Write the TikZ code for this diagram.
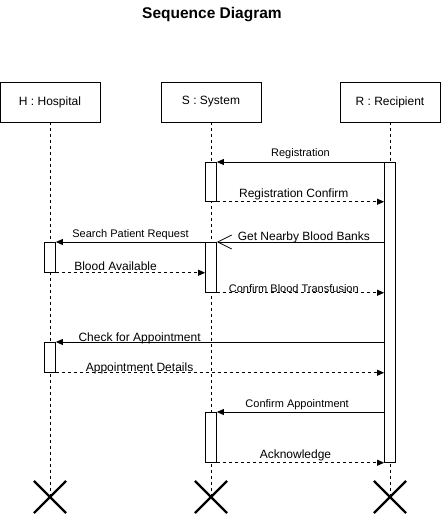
\documentclass[tikz,border=0pt]{standalone}
\usepackage{fontspec}
\setmainfont{Liberation Sans}
\usetikzlibrary{arrows.meta,shapes.misc}

\begin{document}
\begin{tikzpicture}[x=1pt,y=-1pt,line width=0.75pt,
		lifebox/.style={draw,minimum width=100pt,minimum height=40pt,inner sep=0pt,font=\fontsize{12}{14}\selectfont},
		actbar/.style={draw,fill=white,minimum width=11pt,inner sep=0pt,anchor=north},
		lifeline/.style={dash pattern=on 3pt off 3pt},
		msg/.style={-{Triangle[length=7pt,width=6pt]}},
		reply/.style={dash pattern=on 3pt off 3pt,-{Triangle[length=7pt,width=6pt]}},
		lbl/.style={inner sep=0pt,font=\fontsize{11}{13}\selectfont},
		big/.style={inner sep=0pt,font=\fontsize{12}{14}\selectfont},
		kill/.style={draw,cross out,minimum size=30pt,inner sep=0pt,line width=2.2pt}]
		\useasboundingbox (0,0) rectangle (442,514);
		\node[font=\bfseries\fontsize{15.5}{17}\selectfont] (title) at (212,15) {Sequence Diagram};
		% participants
		\node[lifebox] (hosp) at (50,102) {H : Hospital};
		\node[lifebox] (sys) at (211,102) {S : System};
		\node[lifebox] (recip) at (390,102) {R : Recipient};
		\node[kill] (hX) at (50,497) {};
		\node[kill] (sX) at (211,497) {};
		\node[kill] (rX) at (390,497) {};
		\draw[lifeline] (hosp) -- (hX.center);
		\draw[lifeline] (sys) -- (sX.center);
		\draw[lifeline] (recip) -- (rX.center);
		% activations
		\node[actbar,minimum height=300pt] (rAct) at (390,162) {};
		\node[actbar,minimum height=39pt] (sAct1) at (211,162) {};
		\node[actbar,minimum height=30pt] (hAct1) at (50,242) {};
		\node[actbar,minimum height=50pt] (sAct2) at (211,242) {};
		\node[actbar,minimum height=30pt] (hAct2) at (50,342) {};
		\node[actbar,minimum height=50pt] (sAct3) at (211,412) {};
		% messages
		\draw[msg] (rAct.north west) -- node[lbl,above=2.5pt]{Registration} (sAct1.north east);
		\draw[reply] (sAct1.south east) -- node[big,above=1pt,pos=0.46]{Registration Confirm} (sAct1.south east -| rAct.west);
		\draw[-{Straight Barb[length=14pt,width=14pt]}] (rAct.west |- sAct2.north) -- node[big,above=-1pt,pos=0.48]{Get Nearby Blood Banks} (sAct2.north east);
		\draw[msg] (sAct2.north west) -- node[lbl,above=2pt]{Search Patient Request} (hAct1.north east);
		\draw[reply] (hAct1.south east) -- node[big,above=1.5pt,pos=0.4]{Blood Available} (hAct1.south east -| sAct2.west);
		\draw[reply] (sAct2.south east) -- node[lbl,above=-0.5pt,pos=0.46]{Confirm Blood Transfusion} (sAct2.south east -| rAct.west);
		\draw[msg] (rAct.west |- hAct2.north) -- node[big,above=-2pt,pos=0.745]{Check for Appointment} (hAct2.north east);
		\draw[reply] (hAct2.south east) -- node[big,above=-2pt,pos=0.255]{Appointment Details} (hAct2.south east -| rAct.west);
		\draw[msg] (rAct.west |- sAct3.north) -- node[lbl,above=2pt,pos=0.52]{Confirm Appointment} (sAct3.north east);
		\draw[reply] (sAct3.south east) -- node[big,above=1pt,pos=0.47]{Acknowledge} (rAct.south west);
	\end{tikzpicture}
\end{document}
